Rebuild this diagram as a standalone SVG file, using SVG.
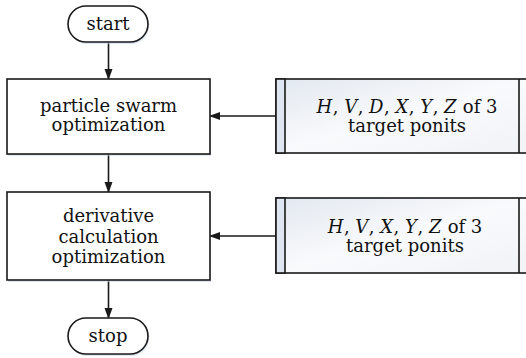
<svg xmlns="http://www.w3.org/2000/svg" width="526" height="358" viewBox="0 0 526 358">
<style>
.shape{fill:#fff;stroke:#1a1a1a;stroke-width:1.6}
.data{fill:url(#g);stroke:#1a1a1a;stroke-width:1.6}
.strip{fill:#dde6f1;stroke:#1a1a1a;stroke-width:1.6}
.shadow{fill:#c9d6e8;opacity:0.6}
.t{font-family:"DejaVu Serif","Liberation Serif",serif;font-size:18px;fill:#111;text-anchor:middle}
.i{font-style:italic}
.c{stroke:#1a1a1a;stroke-width:1.6;fill:none;marker-end:url(#ah)}
</style>
<defs>
<linearGradient id="g" x1="0" y1="0" x2="1" y2="1">
<stop offset="0" stop-color="#e2e8f0"/>
<stop offset="0.5" stop-color="#f9fafc"/>
<stop offset="1" stop-color="#f0f3f7"/>
</linearGradient>
<marker id="ah" markerWidth="11" markerHeight="10" refX="10" refY="5" orient="auto" markerUnits="userSpaceOnUse">
<path d="M0,1 L11,5 L0,9 Z" fill="#1a1a1a"/>
</marker>
</defs>
<g id="connectors">
<line class="c" x1="108.5" y1="42" x2="108.5" y2="79"/>
<line class="c" x1="108.5" y1="154" x2="108.5" y2="192"/>
<line class="c" x1="108.5" y1="280" x2="108.5" y2="318"/>
<line class="c" x1="276" y1="116" x2="210" y2="116"/>
<line class="c" x1="276" y1="236" x2="210" y2="236"/>
</g>
<g id="start">
<rect class="shadow" x="69" y="8" width="80" height="36" rx="18"/>
<rect class="shape" x="68" y="6" width="80" height="36" rx="18"/>
<text class="t" x="108" y="30">start</text>
</g>
<g id="pso">
<rect class="shadow" x="8" y="81" width="203" height="75"/>
<rect class="shape" x="7" y="79" width="203" height="75"/>
<text class="t" x="108.5" y="112">particle swarm</text>
<text class="t" x="108.5" y="131">optimization</text>
</g>
<g id="dco">
<rect class="shadow" x="8" y="194" width="203" height="88"/>
<rect class="shape" x="7" y="192" width="203" height="88"/>
<text class="t" x="108.5" y="222">derivative</text>
<text class="t" x="108.5" y="243">calculation</text>
<text class="t" x="108.5" y="263">optimization</text>
</g>
<g id="stop">
<rect class="shadow" x="69" y="320" width="80" height="36" rx="18"/>
<rect class="shape" x="68" y="318" width="80" height="36" rx="18"/>
<text class="t" x="108" y="342">stop</text>
</g>
<g id="input1">
<rect class="data" x="276" y="79" width="254" height="74"/>
<rect class="strip" x="276" y="79" width="9" height="74"/>
<line x1="519" y1="79" x2="519" y2="153" stroke="#1a1a1a" stroke-width="1.6"/>
<text class="t" x="407" y="113"><tspan class="i">H</tspan><tspan dx="0.5">, </tspan><tspan class="i">V</tspan><tspan dx="0.5">, </tspan><tspan class="i">D</tspan><tspan dx="0.5">, </tspan><tspan class="i">X</tspan><tspan dx="0.5">, </tspan><tspan class="i">Y</tspan><tspan dx="0.5">, </tspan><tspan class="i">Z</tspan><tspan dx="0.5"> of 3</tspan></text>
<text class="t" x="407" y="132">target ponits</text>
</g>
<g id="input2">
<rect class="data" x="276" y="198" width="254" height="75"/>
<rect class="strip" x="276" y="198" width="9" height="75"/>
<line x1="519" y1="198" x2="519" y2="273" stroke="#1a1a1a" stroke-width="1.6"/>
<text class="t" x="405" y="233"><tspan class="i">H</tspan><tspan dx="0.5">, </tspan><tspan class="i">V</tspan><tspan dx="0.5">, </tspan><tspan class="i">X</tspan><tspan dx="0.5">, </tspan><tspan class="i">Y</tspan><tspan dx="0.5">, </tspan><tspan class="i">Z</tspan><tspan dx="0.5"> of 3</tspan></text>
<text class="t" x="405" y="252">target ponits</text>
</g>
</svg>
